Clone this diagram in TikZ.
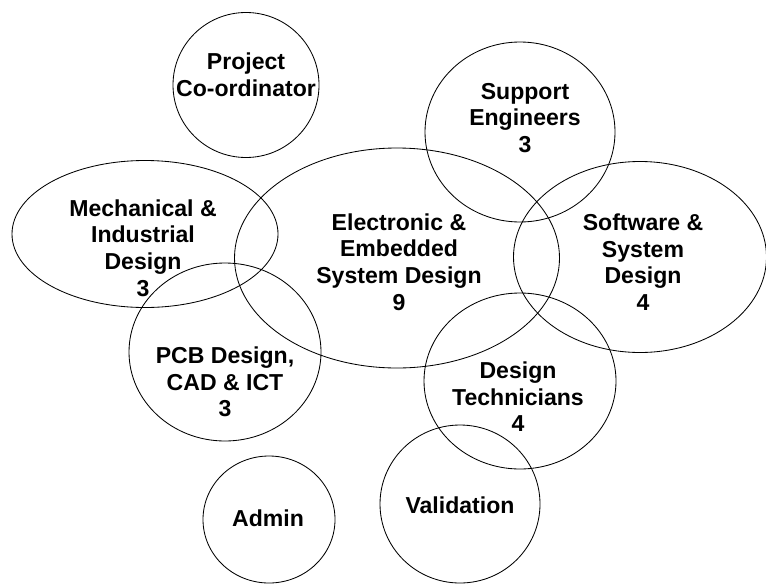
\documentclass[tikz,border=0pt]{standalone}
\usepackage{fontspec}
\setmainfont{Liberation Sans}
\tikzset{
	team/.style={font=\fontsize{16.4}{18.9}\selectfont\bfseries, align=center, inner sep=0pt}
}

\begin{document}
\begin{tikzpicture}[x=0.025cm, y=-0.025cm, line width=0.6pt]
			%%%%% START %%%%%
			\useasboundingbox (0, 0) rectangle (766, 585);
			
			% outlines
			\draw (246, 85) ellipse (73 and 72.5);
			\draw (520, 132) ellipse (95 and 90);
			\draw (145, 234) ellipse (133 and 73.5);
			\draw (397, 258) ellipse (162.5 and 110);
			\draw (640, 257) ellipse (126.5 and 95.5);
			\draw (225, 352) ellipse (96 and 89);
			\draw (520, 381) ellipse (96 and 88);
			\draw (460, 504) ellipse (80 and 79);
			\draw (269, 519.5) ellipse (66 and 63.5);
			
			% labels
			\node[team] (coord) at (246, 75) {Project\\Co-ordinator};
			\node[team] (support) at (525, 118) {Support\\Engineers\\3};
			\node[team] (mech) at (143, 248) {Mechanical \&\\Industrial\\Design\\3};
			\node[team] (elec) at (399, 262) {Electronic \&\\Embedded\\System Design\\9};
			\node[team] (soft) at (643, 262) {Software \&\\System\\Design\\4};
			\node[team] (pcb) at (225, 382) {PCB Design,\\CAD \& ICT\\3};
			\node[team] (tech) at (518, 397) {Design\\Technicians\\4};
			\node[team] (valid) at (460, 505) {Validation};
			\node[team] (admin) at (268, 518) {Admin};
			
			%%%%% END %%%%%
\end{tikzpicture}
\end{document}
